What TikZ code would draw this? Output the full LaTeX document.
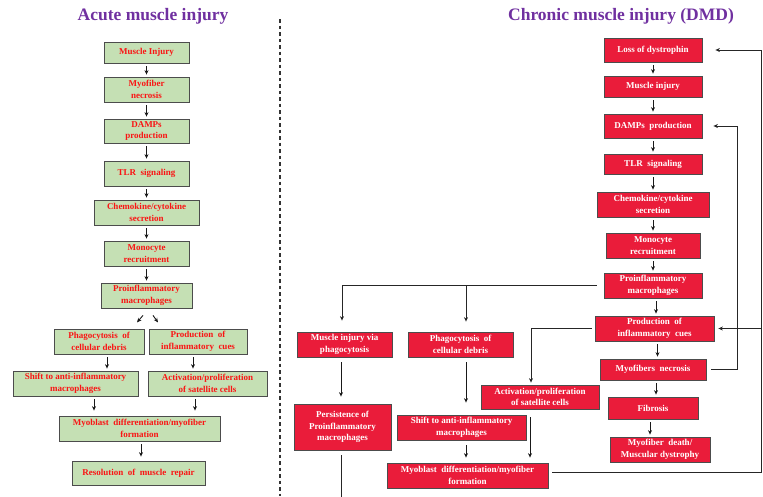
\documentclass[tikz,border=0pt]{standalone}
\usepackage{fontspec}
\setmainfont{Liberation Serif}
\usetikzlibrary{arrows.meta,calc}
\definecolor{acutegreen}{RGB}{197,224,180}
\definecolor{acutered}{RGB}{250,20,20}
\definecolor{dmdred}{RGB}{234,28,58}
\definecolor{titlepurple}{RGB}{112,48,160}

\begin{document}
\begin{tikzpicture}[x=1pt,y=-1pt,>={Stealth[length=4.5pt,width=4pt]},
  acute/.style={draw=black!70,line width=.8pt,fill=acutegreen,text=acutered,align=center,inner sep=1pt,font=\bfseries\fontsize{9}{11.5}\selectfont},
  dmd/.style={draw=black!70,line width=.8pt,fill=dmdred,text=white,align=center,inner sep=1pt,font=\bfseries\fontsize{9}{11.5}\selectfont},
  link/.style={->,line width=.9pt,black!90,shorten <=3pt,shorten >=2pt},
  rail/.style={->,line width=1pt,black!85},
  heading/.style={text=titlepurple,font=\bfseries\fontsize{17.5}{20}\selectfont}]
\useasboundingbox (0,0) rectangle (763,496);

% titles and divider
\node[heading] (acutetitle) at (153,16) {Acute muscle injury};
\node[heading] (dmdtitle) at (621,16) {Chronic muscle injury (DMD)};
\draw[line width=1.2pt,black!80,dash pattern=on 3.5pt off 3pt] (280,19) -- (280,496);

% acute column
\node[acute,minimum width=85pt,minimum height=21pt] (a1) at (146.5,52.5) {Muscle Injury};
\node[acute,minimum width=85pt,minimum height=25pt] (a2) at (146.5,89.5) {Myofiber\\necrosis};
\node[acute,minimum width=85pt,minimum height=24pt] (a3) at (146.5,131) {DAMPs\\production};
\node[acute,minimum width=85pt,minimum height=25pt] (a4) at (146.5,173.5) {TLR\ \ signaling};
\node[acute,minimum width=105pt,minimum height=25pt] (a5) at (146.5,212.5) {Chemokine/cytokine\\secretion};
\node[acute,minimum width=85pt,minimum height=25pt] (a6) at (146.5,253.5) {Monocyte\\recruitment};
\node[acute,minimum width=91pt,minimum height=25pt] (a7) at (146.5,295.5) {Proinflammatory\\macrophages};
\node[acute,minimum width=90pt,minimum height=25pt] (a8) at (99,341.5) {Phagocytosis\ \ of\\cellular debris};
\node[acute,minimum width=98pt,minimum height=25pt] (a9) at (198,341.5) {Production\ \ of\\inflammatory\ \ cues};
\node[acute,minimum width=125pt,minimum height=25pt] (a10) at (75.5,383.5) {Shift to anti-inflammatory\\macrophages};
\node[acute,minimum width=119pt,minimum height=25pt] (a11) at (207.5,383.5) {Activation/proliferation\\of satellite cells};
\node[acute,minimum width=161pt,minimum height=25pt] (a12) at (139.5,428.5) {Myoblast\ \ differentiation/myofiber\\formation};
\node[acute,minimum width=133pt,minimum height=24pt] (a13) at (138.5,473) {Resolution\ \ of\ \ muscle\ \ repair};

\foreach \u/\v in {a1/a2,a2/a3,a3/a4,a4/a5,a5/a6,a6/a7}
  \draw[link] (\u) -- (\v);
\draw[link,shorten <=0pt,shorten >=0pt] ([xshift=-3.5pt,yshift=-7pt]a7.south) -- ++(-6,7);
\draw[link,shorten <=0pt,shorten >=0pt] ([xshift=6.5pt,yshift=-7pt]a7.south) -- ++(5,7);
\draw[link] ([xshift=8pt]a8.south) -- ([xshift=8pt]a8.south |- a10.north);
\draw[link] ([xshift=-5pt]a9.south) -- ([xshift=-5pt]a9.south |- a11.north);
\draw[link,shorten >=5pt] ([xshift=18.5pt]a10.south) -- ([xshift=18.5pt]a10.south |- a12.north);
\draw[link,shorten >=5pt] ([xshift=-12.5pt]a11.south) -- ([xshift=-12.5pt]a11.south |- a12.north);
\draw[link,shorten >=4pt] ([xshift=1.5pt]a12.south) -- ([xshift=1.5pt]a12.south |- a13.north);

% chronic (DMD) column
\node[dmd,minimum width=98pt,minimum height=24pt] (c1) at (653,50) {Loss of dystrophin};
\node[dmd,minimum width=98pt,minimum height=21pt] (c2) at (653,86.5) {Muscle injury};
\node[dmd,minimum width=98pt,minimum height=24pt] (c3) at (653,126) {DAMPs\ \ production};
\node[dmd,minimum width=98pt,minimum height=20pt] (c4) at (653,164) {TLR\ \ signaling};
\node[dmd,minimum width=112pt,minimum height=25pt] (c5) at (653,204.5) {Chemokine/cytokine\\secretion};
\node[dmd,minimum width=94pt,minimum height=25pt] (c6) at (653,245.5) {Monocyte\\recruitment};
\node[dmd,minimum width=98pt,minimum height=25pt] (c7) at (653,285.5) {Proinflammatory\\macrophages};
\node[dmd,minimum width=119pt,minimum height=25pt] (c8) at (654.5,328.5) {Production\ \ of\\inflammatory\ \ cues};
\node[dmd,minimum width=106pt,minimum height=21pt] (c9) at (653,369.5) {Myofibers\ \ necrosis};
\node[dmd,minimum width=90pt,minimum height=22pt] (c10) at (653,408) {Fibrosis};
\node[dmd,minimum width=100pt,minimum height=25pt] (c11) at (660,449.5) {Myofiber\ \ death/\\Muscular dystrophy};
\node[dmd,minimum width=118pt,minimum height=24pt] (c12) at (540,397) {Activation/proliferation\\of satellite cells};
\node[dmd,minimum width=95pt,minimum height=25pt] (c13) at (344.5,344.5) {Muscle injury via\\phagocytosis};
\node[dmd,minimum width=105pt,minimum height=25pt] (c14) at (460.5,344.5) {Phagocytosis\ \ of\\cellular debris};
\node[dmd,minimum width=97pt,minimum height=46pt] (c15) at (342.5,427) {Persistence of\\Proinflammatory\\macrophages};
\node[dmd,minimum width=129pt,minimum height=25pt] (c16) at (461.5,427.5) {Shift to anti-inflammatory\\macrophages};
\node[dmd,minimum width=161pt,minimum height=25pt] (c17) at (467.5,475.5) {Myoblast\ \ differentiation/myofiber\\formation};

\foreach \u/\v in {c1/c2,c2/c3,c3/c4,c4/c5,c5/c6,c6/c7}
  \draw[link] (\u) -- (\v);
\foreach \u/\v in {c7/c8,c8/c9,c9/c10}
  \draw[link] ([xshift=3pt]\u.south) -- ([xshift=3pt]\u.south |- \v.north);
\draw[link] ([xshift=-3pt]c10.south) -- ([xshift=-3pt]c10.south |- c11.north);

% branches from the macrophage and cue boxes
\coordinate (fork) at ([xshift=5.5pt]c14.north |- c7.west);
\draw[rail] ([xshift=-7pt]c7.west) -| ([xshift=-2.5pt,yshift=11pt]c13.north);
\draw[rail] (fork) -- ([xshift=5.5pt,yshift=10pt]c14.north);
\draw[rail] ([xshift=-3pt]c8.west) -| ([xshift=-9pt,yshift=2pt]c12.north);
\draw[link,shorten <=5pt,shorten >=7pt] ([xshift=-1.5pt]c15.north |- c13.south) -- ([xshift=-1.5pt]c15.north);
\draw[link,shorten <=5pt,shorten >=12pt] ([xshift=5.5pt]c14.south) -- ([xshift=5.5pt]c14.south |- c16.north);
\draw[link,shorten <=8pt,shorten >=5pt] ([xshift=-10pt]c12.south) -- ([xshift=-10pt]c12.south |- c17.north);
\draw[link,shorten <=5pt,shorten >=5pt] ([xshift=4.5pt]c16.south) -- ([xshift=4.5pt]c16.south |- c17.north);
\draw[line width=1pt,black!85] ([xshift=-1.5pt,yshift=-5pt]c15.south) -- ++(0,50);

% feedback loops on the right
\draw[rail] ([xshift=5pt]c9.east) -- ++(26,0) |- ([xshift=11pt]c3.east);
\coordinate (railtop) at (761,50);
\draw[rail] ([xshift=4pt,yshift=3pt]c17.east) -| (railtop) -- ([xshift=13pt]c1.east);
\draw[rail] (railtop |- c8.east) -- ([xshift=4pt]c8.east);
\end{tikzpicture}
\end{document}
